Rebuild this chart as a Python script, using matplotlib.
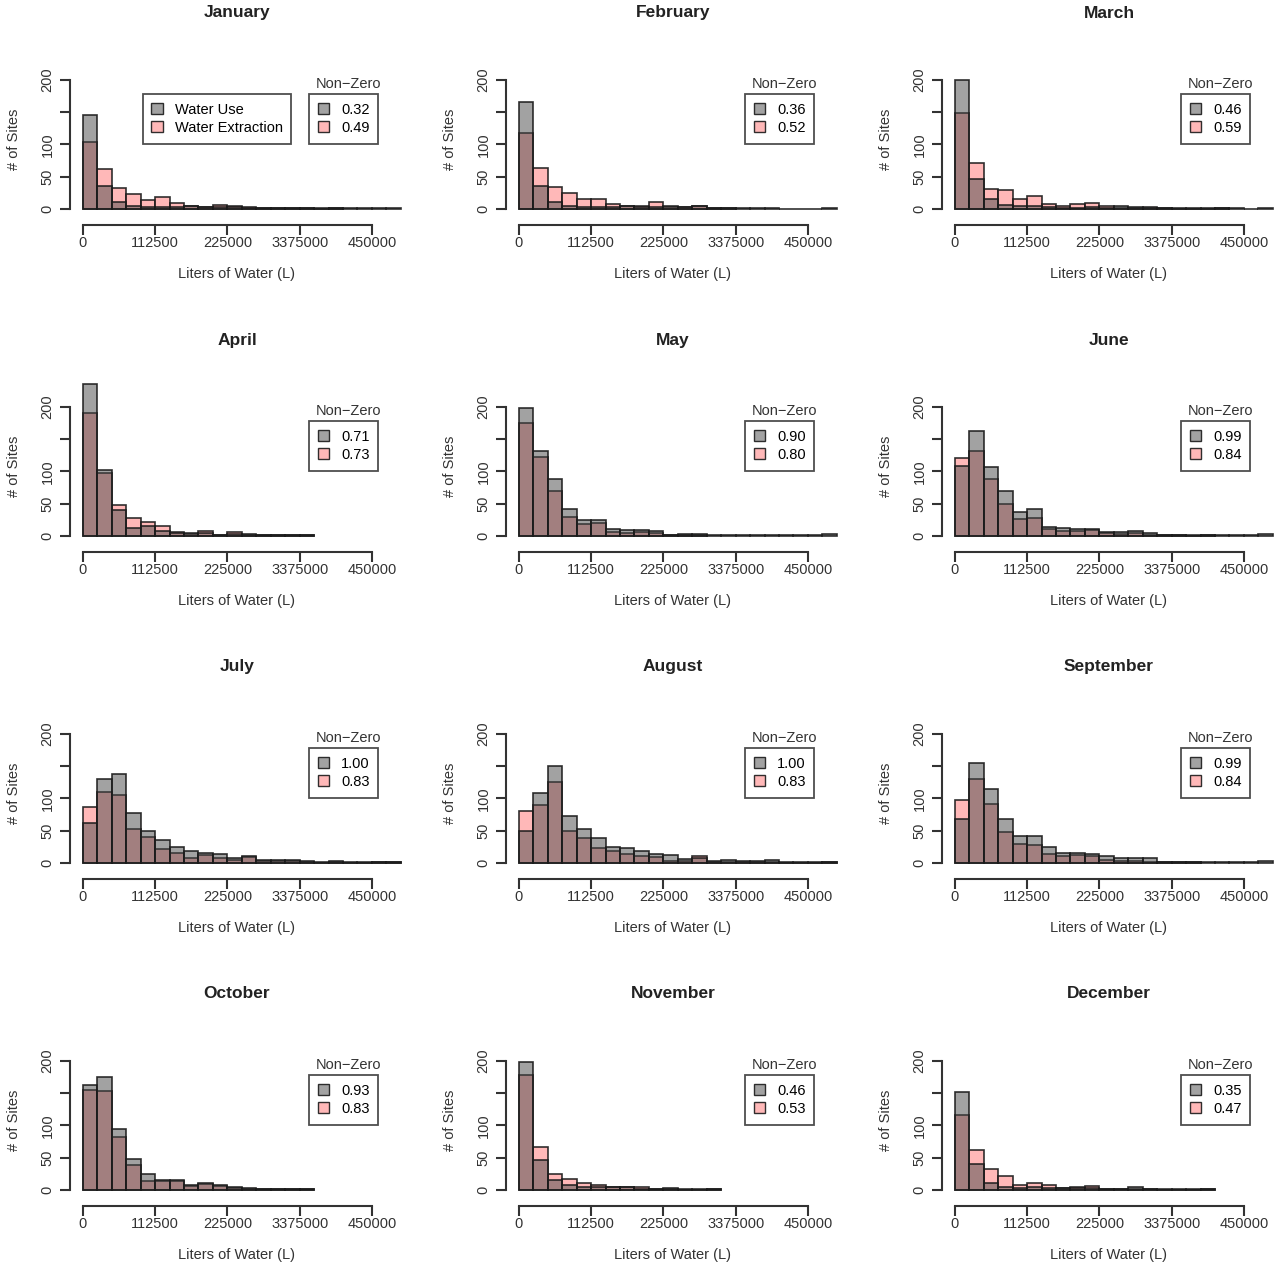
import numpy as np
import matplotlib
matplotlib.use("Agg")
import matplotlib.pyplot as plt
from matplotlib.patches import Patch

plt.rcParams['font.family'] = ['Liberation Sans', 'DejaVu Sans']

# --- Data: counts per 22500 L bin --------------------------------------------
months = ["January", "February", "March", "April", "May", "June",
          "July", "August", "September", "October", "November", "December"]
bin_width = 22500

use_counts = [
    [145, 35, 10, 5, 3, 3, 3, 4, 3, 3, 3, 2, 2, 1, 1, 1, 1, 2, 1, 1, 1, 2],
    [165, 35, 10, 5, 3, 3, 3, 4, 3, 3, 4, 3, 4, 1, 1, 1, 1, 2, 0, 0, 0, 2],
    [200, 47, 15, 6, 5, 5, 3, 2, 2, 3, 2, 4, 3, 3, 2, 1, 1, 2, 1, 1, 0, 2],
    [235, 102, 40, 12, 15, 8, 5, 4, 5, 2, 3, 3, 2, 2, 2, 2],
    [198, 132, 88, 42, 25, 25, 10, 9, 9, 7, 2, 3, 3, 2, 1, 1, 1, 1, 1, 1, 1, 3],
    [108, 162, 106, 70, 37, 42, 14, 12, 11, 11, 6, 6, 7, 4, 2, 2, 1, 2, 1, 1, 1, 3],
    [62, 130, 138, 78, 50, 35, 25, 18, 15, 14, 7, 11, 4, 5, 4, 3, 1, 3, 1, 1, 2, 2],
    [50, 108, 150, 72, 52, 38, 25, 23, 18, 13, 12, 6, 8, 3, 5, 3, 3, 5, 1, 1, 1, 2],
    [68, 155, 115, 68, 42, 42, 25, 15, 16, 14, 11, 7, 7, 7, 2, 2, 2, 2, 1, 1, 1, 3],
    [162, 175, 95, 48, 25, 15, 16, 8, 10, 8, 5, 3, 2, 2, 2, 2],
    [198, 47, 15, 8, 5, 5, 5, 5, 2, 2, 3, 1, 1, 2],
    [152, 40, 11, 5, 3, 5, 3, 3, 3, 3, 2, 2, 5, 1, 1, 1, 1, 2],
]
extraction_counts = [
    [103, 62, 32, 23, 14, 18, 9, 4, 3, 6, 5, 3, 2, 2, 1, 1, 0, 1],
    [118, 63, 34, 24, 16, 16, 8, 4, 5, 11, 3, 3, 4, 1, 1],
    [148, 71, 31, 30, 16, 20, 8, 4, 8, 9, 5, 1, 2, 1, 1, 0, 0, 0, 1],
    [190, 98, 48, 28, 22, 16, 6, 3, 7, 2, 6, 2, 1, 1, 1, 1],
    [175, 122, 70, 30, 18, 20, 6, 5, 6, 5, 1, 1, 1],
    [120, 132, 88, 50, 26, 27, 10, 8, 8, 9, 4, 3, 5, 2, 1, 1, 0, 1],
    [87, 110, 105, 52, 40, 22, 16, 8, 12, 8, 5, 9, 3, 3, 3, 2, 0, 1, 0, 0, 1, 1],
    [80, 90, 125, 50, 38, 23, 18, 13, 10, 9, 3, 3, 10, 2, 2, 1, 1, 1, 0, 0, 0, 1],
    [98, 130, 92, 48, 29, 27, 14, 10, 12, 10, 5, 3, 3, 2, 1, 1, 1],
    [155, 153, 82, 38, 13, 14, 13, 6, 9, 6, 3, 2, 1, 1, 1, 1],
    [178, 67, 25, 17, 10, 7, 4, 4, 5, 1, 1, 0, 0, 1],
    [116, 62, 32, 22, 7, 11, 8, 3, 5, 6, 1, 1, 1, 1, 0, 0, 0, 1],
]
nonzero_use = ["0.32", "0.36", "0.46", "0.71", "0.90", "0.99",
               "1.00", "1.00", "0.99", "0.93", "0.46", "0.35"]
nonzero_ext = ["0.49", "0.52", "0.59", "0.73", "0.80", "0.84",
               "0.83", "0.83", "0.84", "0.83", "0.53", "0.47"]
xticks = [0, 112500, 225000, 337500, 450000]
xtick_labels = ["0", "112500", "225000", "3375000", "450000"]
yticks = [0, 50, 100, 150, 200]
ytick_labels = ["0", "50", "100", "", "200"]

# --- Styling -----------------------------------------------------------------
W, H = 1280, 1271
gray_col = (0.28, 0.28, 0.28, 0.5)
pink_col = (1.0, 0.45, 0.45, 0.5)
edge = (0.1, 0.1, 0.1, 0.9)

fig = plt.figure(figsize=(W / 100, H / 100), dpi=100)

for i, month in enumerate(months):
    r, c = divmod(i, 3)
    left_px = 70 + c * 436
    base_px = 225 + r * 327
    ax = fig.add_axes([left_px / W, (H - base_px) / H, 334 / W, 171 / H])
    ax.set_xlim(-20000, 500000)
    ax.set_ylim(-25, 240)

    ext = np.array(extraction_counts[i], dtype=float)
    use = np.array(use_counts[i], dtype=float)
    ax.bar(np.arange(len(ext)) * bin_width, ext, width=bin_width, align="edge",
           color=pink_col, edgecolor=edge, linewidth=1.2)
    ax.bar(np.arange(len(use)) * bin_width, use, width=bin_width, align="edge",
           color=gray_col, edgecolor=edge, linewidth=1.2)

    for s in ["top", "right"]:
        ax.spines[s].set_visible(False)
    ax.spines["left"].set_bounds(0, 200)
    ax.spines["bottom"].set_bounds(0, 450000)
    ax.spines["left"].set_position(("data", -20000))
    ax.spines["bottom"].set_position(("data", -25))
    for s in ["left", "bottom"]:
        ax.spines[s].set_linewidth(1.5)
        ax.spines[s].set_color("#333333")
    ax.set_xticks(xticks)
    ax.set_xticklabels(xtick_labels, fontsize=10.5, color="#333333")
    ax.set_yticks(yticks)
    ax.set_yticklabels(ytick_labels, fontsize=10.5, rotation=90, va="center",
                       color="#333333")
    ax.tick_params(axis="x", length=7, width=1.5, color="#333333", pad=1)
    ax.tick_params(axis="y", length=7, width=1.5, color="#333333", pad=4)
    ax.set_xlabel("Liters of Water (L)", fontsize=10.5, labelpad=12, color="#333333")
    ax.set_ylabel("# of Sites", fontsize=10.5, labelpad=14, color="#333333")

    fig.text((left_px + 167) / W, 1 - (13 + r * 327) / H, month,
             ha="center", va="center", fontsize=12.5, fontweight="bold",
             color="#222222")

    handles = [Patch(facecolor=gray_col, edgecolor=edge),
               Patch(facecolor=pink_col, edgecolor=edge)]
    leg = ax.legend(handles, [nonzero_use[i], nonzero_ext[i]], loc="upper right",
                    bbox_to_anchor=(0.945, 0.81), fontsize=10.5, frameon=True,
                    fancybox=False, edgecolor="#222222", handlelength=0.8,
                    handleheight=0.8, borderpad=0.6, labelspacing=0.3,
                    handletextpad=0.8)
    leg.get_frame().set_linewidth(1.3)
    ax.text(0.835, 0.825, "Non\u2212Zero", transform=ax.transAxes, ha="center",
            va="center", fontsize=10.5, color="#333333")
    if i == 0:
        ax.add_artist(leg)
        leg2 = ax.legend(handles, ["Water Use", "Water Extraction"],
                         loc="upper right", bbox_to_anchor=(0.685, 0.81),
                         fontsize=10.5, frameon=True, fancybox=False,
                         edgecolor="#222222", handlelength=0.8,
                         handleheight=0.8, borderpad=0.6, labelspacing=0.3,
                         handletextpad=0.8)
        leg2.get_frame().set_linewidth(1.3)

fig.savefig("out.png", dpi=100, facecolor="white")
